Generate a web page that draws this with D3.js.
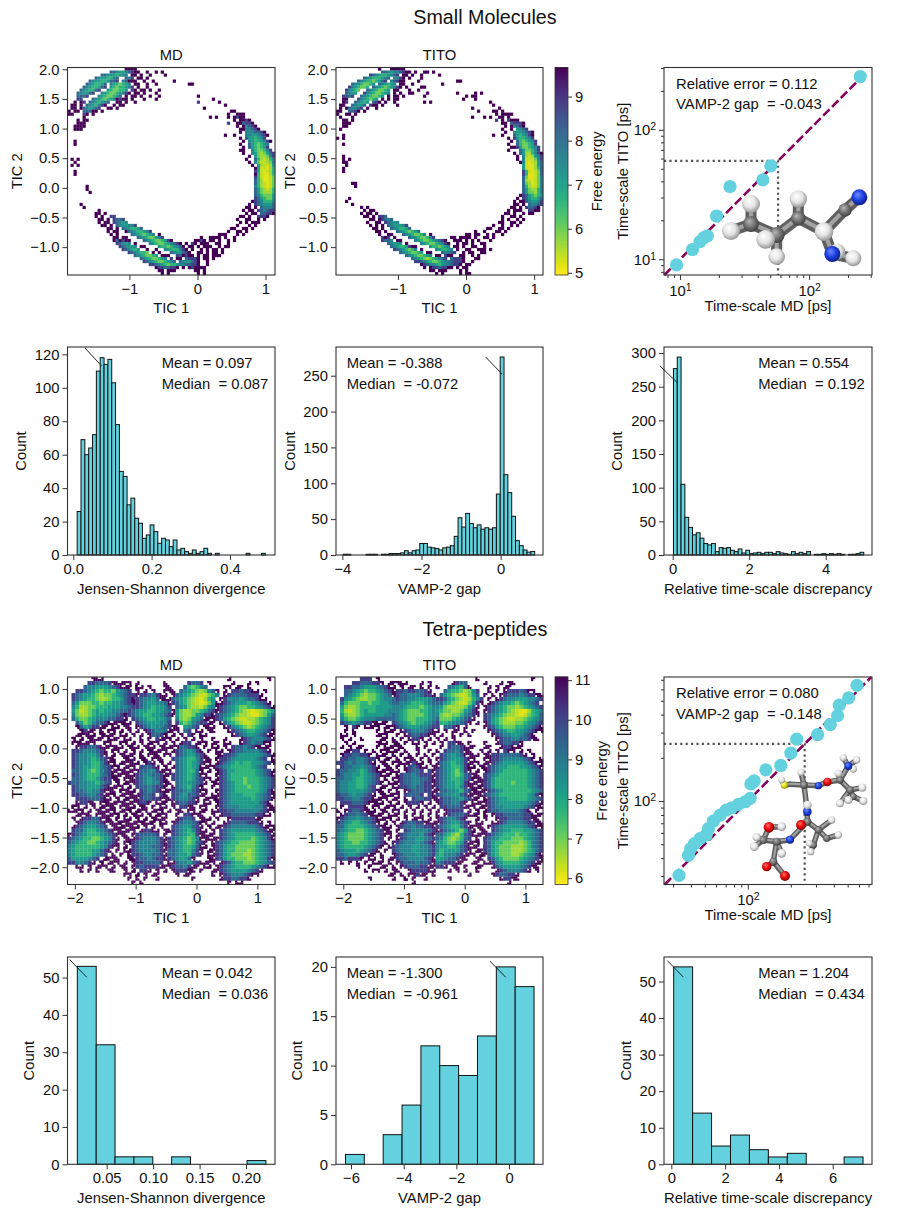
<!DOCTYPE html>
<html>
<head>
<meta charset="utf-8">
<script src="https://cdn.jsdelivr.net/npm/d3@7"></script>
<style>
  html, body { margin: 0; padding: 0; background: #fff; }
  svg text { font-family: "Liberation Sans", Arial, sans-serif; white-space: pre; fill: #111; }
</style>
</head>
<body>
<svg id="chart" width="897" height="1218"></svg>
<script>
// free energy histograms, one text row per TIC 2 bin. "col:levels", level 0 = lowest energy, 9 = highest, . = empty bin
var ringMdRows = ["19:9999","14:7765567899 26:9 29:9 31:9","11:776554566 21:99 24:9 27:9 32:9","9:76554467 19:768 23:99 26:9","7:7655445778 18:67999 25:9 28:9 35:9","6:7654457 14:6543456 22:99 26:9 29:9 40:99","5:76544578 14:54344568 23:9 26:9","4:7654478 13:5433445 21:89 24:99 27:9 30:9","3:765578 11:6543345689 22:99 25:9 29:9","3:7778 10:65433457 19:9.99 24:9 27:9 30:9 43:9","3:88 8:76543456 16:9899 21:9 25:9 29:9 48:9","2:9.98 7:7654567 16:99 19:9 22:9 43:8 50:9","1:99.9 6:7654689 15:9.9 18:9 52:9","1:99.9 5:765578 13:99 16:9 45:9","0:9.99 5:77799 11:9 54:99","0:99 5:89 8:9 53:9 56:999","5:9 47:9 49:9 53:9 55:9899","3:9 5:99 55:9 57:9989","3:999 53:8 56:99 58:7889","2:99 4:99 56:9.9 59:6789","2:999 57:99 59:66789","57:9 59:6667789","52:9 55:9 59:66556789","57:9 59:7554568","2:9 58:9 60:65445689","2:9 57:9 60:7543456","58:9 60:7543458","57:99 61:6433468","58:9 61:65323578","60:9 62:5322368","1:9 3:9 59:9 62:74212468","2:9 60:9 62:63112368","1:9 3:9 61:9 63:5211258","62:9 63:5110247","2:9 62:8 63:5101247","2:9 62:9 63:4100247","62:84100137","62:74200136","62:74210137","6:9 62:642101378","6:9 62:75321247","7:9 62:753222468","62:7643335689","62:87543356","61:9 62:87644468","4:9 60:9 62:876555789","5:9 59:99 62:9 64:76667","10:9 58:9 60:99 63:8767889","9:99 12:9 59:9.9 62:9 64:77889","9:9 11:9 14:88 57:99 60:9 63:8889","10:99 13:9 15:8778 56:9 59:99 63:9 65:9","10:9 12:99 15:87656 57:9 59:9.9 62:99","11:99 14:9 16:7655668 56:9 60:9 62:9","13:99 16:9 18:7654457 54:99 58:99 61:9","13:9 15:99 19:976544568 53:9 56:99 59:9","14:9 16:9 21:76543456 30:9 50:99 52:9 56:9 58:9","15:99 18:99 23:765433568 44:9 47:9999 52:9 55:9","15:9798 19:99 25:7654334589 42:9989.99 50:9 53:9 55:9","16:87656 22:9 27:65433456789 39:9 41:8 42:9.99 46:9 49:99 53:9","17:876556 24:99 30:544345679 40:99 43:9.9 46:99 50:9.99","18:876545 26:9 29:9 32:65444689 41:9 44:9 46:9 48:99 51:9","20:8765443 28:9 30:9 34:7655789 43:99 46:9 48:99 51:9","22:76543345 31:99 33:9 36:879899 43:9.9 46:9.99 50:9","24:765433456 34:8 36:99 39:78889 45:99 48:9","25:87654334567 37:7655789 46:9","27:88765434456677889 46:9","29:98877889.9 40:9899 44:99","30:99.99 35:9 42:99.9","31:9 33:9 43:9.9"];

var ringTitoRows = ["14:9 18:9999 22:9","15:7765667899 26:9 29:99 32:9","11:8765445678 22:99 25:9 28:9 34:9","9:765444567 19:6689 24:9 28:9","7:7654434578 18:67899 27:9 40:99","5:76543345 14:765456 21:99 25:9 35:9","4:8654334 12:7654345689 23:9 28:99","3:86543 10:76543345 19:99 24:9 27:9","3:7655 9:865433456 19:9.9 24:99 30:9 40:9 46:9.9","2:8778 8:76543345 17:9.99 22:9 29:9 43:9.99","2:99 7:8654345 15:9.9.9 20:9 42:9 46:9","2:98 6:76545 12:789 16:9 19:9 29:9 31:9 51:9","1:99 5:76557 11:899 15:9 20:9 52:9","1:9.9 4:76678 10:9 13:9 45:9 54:9","0:99 4:7789 9:9 47:9 52:99 55:9","0:9 3:99 6:9 53:9 55:9999","1:9 5:9 45:9 49:9 51:9 54:99 57:9","2:99 5:9 53:8 55:9 57:8999","2:999 55:99 58:78889","2:99 56:9 58:9 59:6789","1:9 55:9 58:9 60:5678","56:9 59:6556789","2:9 52:9 55:9 59:7545689","0:9 2:9 57:9 59:8544568","58:9 60:7434568","2:9 57:9 60:7433458","58:99 60:85334568","57:9 61:7533468","59:9 61:75224689","2:9 60:9 62:6212568","2:9 4:9 60:9 62:6111368","2:99 61:9 62:6101257","3:9 62:5100257","2:9 62:5100247","2:9 62:8 63:410137","62:8 63:4001379","62:7 63:3001368","62:72101368","5:99 62:73201368","6:9 62:74211368","62:75322468","62:75332468","61:9 62:875434578","4:9 60:9 62:87544578","3:9 59:9 61:99 63:765568","5:9 59:99 62:9 64:76678","8:9 10:9 58:99 61:9 63:87789","9:9 11:99 57:9.9 60:99 64:8899","8:9 10:99 13:9 56:99 59:9 62:9 64:99","9:99 12:9 14:887 55:9 58:99 61:9","11:99 14:9 15:8767 55:9 57:9 60:9.9","10:9 13:99 16:87656 54:99 58:99 61:9","11:9.9 15:9 17:7655568 52:9 55:9 58:9 60:9","12:99 15:9 18:7654457 50:99 54:99 57:9","13:99 16:9 20:76543457 46:9 49:9 53:99 56:9","14:9 17:99 22:76543346 31:9 43:99 46:99 50:9 52:9 55:9","15:898 19:9 24:765433468 38:99 41:9999 46:9 49:99 52:9","15:8776 20:99 26:65433456789 39:999 43:9.9 47:9 51:9","17:76556 23:9 28:6543345689 40:9 42:99 45:9 48:99","18:7654458 25:99 31:5443456 39:99 42:9 45:99 49:9","19:87654346 28:9 33:654456 40:9 43:99 47:999 51:9","21:76543345 30:99 35:76678 42:9.9 45:9 48:99","23:765433456 33:99 36:899 41:99 45:9 47:9","25:765432345678 38:78889 46:99","26:88765433456678889 45:9","28:98766545667889 43:99","29:9 31:98878899 40:9.99","31:99.9 35:99 41:9 43:9","33:9 35:9 41:9 43:99"];

var tetraMdRows = [
"......999...............................9.........9.............",
".....887778999...9......9.....8778.9.....9...9.9.....",
"....7665556789.9.99.9...9....743467....99.99.9......",
"..88765434435678.9.9.9..9...7654323"+"67..9.8878899.9...",
".876554323345678.9887689...76543211"+"346.9877778889....",
".876544322344578987665799.76543210245.986665677899..",
".753334434455678987655667.87543210135.9876555456789.",
".642233444555667887654556"+"8.7653221356987654334456789",
".531234545566778765544556"+"7.5322334578987654321012345",
".632234555667898765445567"+"8.5322356889876543221002357",
".7433456667788 9.876544556".replace(" ","")+"7.632356799.875432112234568",
"..753467789.999..87655566"+"8.84346788.9.97543211234568",
"..97568899.99..9.98765667"+"899.5678.9.9..9865432345678",
"...98.9.9.99.9.9.9.987667"+"9.9.78.9...9...987654456789",
"...99.9.9..9..9.9.9.97789"+".9.9.89.9.......98765567899",
".9.9.9.99.9.9..9..9.9.899"+"9.9.9.9.......9...987666789.",
".99.9.9..9...99.9.9.9.9.9"+".9.988.9.9....99..9876779..",
"..98877899.9.9.9.9..99.9."+"9.977889....9.9.87767899.9",
".887666789.9..9.9.9.9.99."+".98765689....9.98776666789.",
".876655689.9.9..9.9.9.9.9"+"9.8765578....98876555556789",
".876654578.9..9.9.99.9.9."+".87654468.9.9887655555678.9",
".87665446899.9.9.9.989.9."+"9.76545689..987654544556789",
".876554467899.9.9.87789.9"+".97654569.998765444445678.",
".776543467899..9.9776689."+"9.7654479.9.987554444456789",
".87654446789.99.987667789"+".87654579...987544444456789",
".776544578899..9.87656789"+".87654578.9.987544434445678",
"87766554678.9.9.987656689"+"9.7655678..9.87654434445678",
".876655578.9...9.87767889"+".97654689....87654443445678",
".877656689.9.99.9.8767899"+".877657899..987654444445689",
".887766789.9...9.98778.89"+".8765778....987655544456789",
"..888777899.9.9.9.877889."+"98766789..9.987655555456789",
"..98899..99.9..9.9889.9.9"+".9877889....98765555555789.",
".9..9.9.99.9..9.9.99.9.9."+".9.8899.9....87666555566899",
".9.9.9...9.9.9.9.9.9.9.9."+"9.99.99..9...88776666667899",
"....99.9.9..9.9.9.9.9.9.9"+"..9.8899.....9887777778899",
"...988779.9.9..9.9.9.9.9."+"..98778.9.9....988888899...",
"..98766789.9.99.9.99.9.9."+".987667899....9877778889.9.",
".987655678.9.9.9.9.9.9.9."+".8765578..9..98766666678999",
".877544567899.9.9.98899.9"+"98765468.....87655555567899",
"9876544456789...9877778.9"+".87654489.9..87654444456789",
"8765443345689..9987666789"+"876543469..9987654444345689",
"7654433456789..9876666789"+"8765434789..876544333345678",
"6544444456899.9.876667789"+"8765445799..875443333345678",
"65444455789.9..9876666789"+"776544689.9.875443332345678",
"6544445678.9...9887667789"+"776554789..9875433322345678",
"75555678.9.9...9987767889"+"8765579...9.875443332345689",
"8866789.9.......98877778.9"+"97665789.9..987544333456789",
"..99.9.9........987888899"+"98776899..9.987654444567899",
"...9.9..........9.889.9.9"+".988899.....987655556789..",
".................9.9.99.."+"..9.9........9876667899...",
".................9.9..9.."+".............98877889....",
"..................9......"+"...............9.99......"];

var tetraTitoRows = [
"......888.9........................9.............9....",
"....88777889.9.9.9...9.9.....9877....9...9.99......",
"..8877655567899.9.99.9.9....765479....9.9.99......",
"..7765434456789887887789...7544323"+"68..9.9.98887899..",
"..76543233456798776667889.75432113"+"57.9.9.98777678899",
".865432233456678776655567887 5432124".replace(" ","")+"68.9.987665556678.",
".743334434455677665444567"+"775432113589.9876554345678.",
".532234444555566654443456"+"65322223579.987654332345678",
".421234544555666543334456"+"54332235689.987654321002456",
".532234555556676543333456"+"63223346789.876543221013457",
".643345666777776543344456"+"7333456789..875432112234567",
".876567889.9..87654344567"+"844566789.9.975432223345678",
"..9.89.99.9.9.98765556678"+"8.7789.9....987543334456789",
"..9.9.......9.9.987666789"+"9.9.99.9.9...98765445567899",
".99.9.......9..9.98778899"+".9..9.9.9.....98766556789..",
".9.9..9....9..9.9.9889.9."+"9.9.9..........98776677899.",
"..9.9.......9..9.9.99.9.9"+".9.8899........9877889....",
".9.9.99...9.999.9...9.9.."+".9.87789........988999....",
"..9988.9.9.9...9.9..9..9."+"9.877689.....9.9.899.9.9.",
".98877889.9.9.9.9.9.9.9.9"+".87656799....9887777789.9.",
".8877667889.9..9.9.9.9.9."+"987655689....988766666789.9",
"8876766789.99.9.9.9899.9."+"976545689.9..98765555567899",
".8776656789.9..9.987899.9"+"9765445899.9987655444556789",
"877665457899...9.98778.89"+"876543589.9.987654444445678",
"8766554567899..9877678889"+"8765434789..876544444445678",
"77665445678.9..9877667789"+"8765445789.9875444444445678",
"766554456789.99.877667889"+"876554589.9.875444434445678",
"7665544578.9...9887677889"+"876554689..9875444444445678",
"76655556789....9.987778899"+"7766547899..876544444445679",
"8776566789.9...9.87778.89"+"876655789.9.876544444445689",
"8877667889.9...9.9.8778899"+"8776657899.9876554444456789",
".888777899.9...9.98889.9."+"98776689..9.987655555556789",
".9.88889.9...99.9.9.9.9.9"+".8877789...9987665555567899",
"9.98778999.....9.9.9.9.9."+"9.98888.9.9.987766666789.9",
".9877678999....9.9.9.9.9.9"+".9877789.9.9.9887777788999",
"987665677899.9.9.9.999.9."+"98766789..9....98877778899.",
"87654456789.9.9.987788999"+"987655789.....9987666678899",
"7754444567899..9877677889"+"876544689.9..98765555567899",
"76544334567899.9.876666789"+"876543589..9.87655444556789",
"65433334567899.9876665789"+"7754324789..987654443445678",
"654333345678.9.9876655678"+"764323478...876544433345678",
"6544334456789.98766656789"+"654334589.9.875443333234678",
"654444456789.987666556678"+"6554457899..875433322234678",
"76555456789.9.87666556678"+"645555789.9.875433322234578",
"7765567899.9..98766656678"+"546667899..9975433322345689",
"8878889.99.....8776666789"+"55677899..9..87543333456789",
".9.9.9.9.9.....9877767789"+"6788899..9...98654444567899",
".....9..9.......987778899"+"889.99.9..9...976555567899.",
".......9..........9888899."+"..9.9.9.......987666789.9.",
"..................99899.9"+"..............9877889....",
"........9........9.9..9.."+"...9............98899.....",
"...................9....."+"..................9......."];

// sparse bins between the basins, same grid, drawn under the rows above
var tetraMdFill = ["","14:99","14:99 17:9 25:9 34:9","14:88 25:99 35:9 37:9","13:8888 24:9.9 36:99","14:888 24:99 36:9","14:888 25:9 36:99","14:88 25:9 36:9","24:9 26:9 36:99","14:8 25:99 36:9","13:99 25:9 35:99","10:99.9 14:99 25:9 35:9","2:99 9:9.99 14:9 24:9 34:99","3:999 8:9.99 13:9 23:9 25:99 33:9 35:9","2:99.99 8:999 13:99 24:9 26:9 33:99","1:9.9.99 10:99 14:9 24:99 33:9 36:9 46:9","2:99.9 9:99 13:99.9 20:99 33:99 36:99 49:99","10:9.9 15:99 19:9 24:9.9 34:9 36:99 49:99","11:99 16:9 20:99 24:9 35:9 37:99","11:9 14:99 18:9 21:99 34:9 37:9 51:9","10:99 14:99 18:99 22:9 34:99 37:99","11:9 13:99 16:99 19:99 23:9 35:9 38:9","9:99 12:9 15:9 18:9 24:9 34:9 37:9","10:9 13:99 16:9 24:9 33:9 35:9 37:99","9:9 11:99 15:9 24:99 34:9 37:9","11:99 14:9 16:9 24:9 33:99 37:9","10:9 12:9 14:99 24:9 34:9 36:99","9:99 12:99 15:9 24:9 33:9 36:9","10:9 13:9 15:99 24:99 34:9 37:9","10:99 13:99 16:9 18:9 24:9 33:99 36:9","9:9 12:9 14:99 17:9 24:9 34:9 36:99","8:99 11:9 13:99 16:9 18:99 23:99 34:99 37:9","1:99 8:9.99 13:9 15:99 18:9 24:9 34:9 37:9","0:9 2:99 7:99 10:99 14:99 17:99 22:99 33:99 36:99","2:99 8:9.9 11:99 14:9 16:99 20:9 22:99 33:9 36:9","1:9 9:99 12:9 14:99 17:9 19:9 21:99 24:9 34:99 37:9","10:9 12:99 15:9.9 18:9 20:99 23:99 33:9 36:9","12:99 14:9 16:99 33:9 35:9 37:9","13:9 15:9 25:9 33:99 36:9","13:99 34:9 36:9","14:9 34:99","14:99 33:9 36:9","14:9 34:9 36:9","14:99 35:99","13:9 15:9 35:9","9:99 12:9 15:99 35:99 52:9","8:9.9 11:99 14:9 34:9 36:9","8:99 11:9 13:99 34:99","7:9 10:99 14:9.9 30:9 33:9 36:9","14:99 17:9 30:9 36:9","15:9 31:9","16:9"];
var tetraTitoFill = ["","14:9 16:9","13:99 16:9 25:9","","","","","","","","","10:9 12:9","9:9 12:99","10:9 13:9","10:99","11:99","10:99 14:99 33:9 37:9","12:9 15:99 33:99 37:99","12:99 14:9 33:9 36:9","11:9 14:9 16:9 34:99 37:9","12:99 15:9 18:9 34:9 37:9","11:9 14:99 17:9 21:9 34:9 37:9","13:9 15:9 18:9 20:9 33:99 36:9","12:99 14:9 35:9 37:9","13:9 15:9 35:9 37:99","12:9 14:9 34:99 37:9","14:99 34:9 36:9","11:99 14:9 34:99 36:9","11:9 13:9 34:9 36:99","11:99 13:99 34:9 36:9","10:9 12:9 14:9 35:9 37:9","10:99 13:9 15:9 34:9 36:9","9:99 12:9 14:9 33:99 36:9","9:9 11:99 14:9 35:9 37:9","11:9 13:99 34:99 37:9","12:99 35:9 37:9","12:9 35:99","13:9 34:9 36:9","34:9 36:9","35:99","35:9 37:9","34:99","35:9 37:9","35:99","34:9 36:9","11:9 13:99 36:9","10:99 13:9 35:9 37:9","8:9 11:99 14:9 35:99","9:99 12:9.9 15:9 35:9","13:99 16:9 33:9","14:9 17:9","" ];

// where each level sits along the energy range, 0 = bottom of colorbar
var levelShare = [0.05, 0.09, 0.15, 0.23, 0.35, 0.45, 0.55, 0.67, 0.81, 1];

// histogram counts, bin edges
var jsdSmallCounts = [26,69,60,64,72,110,118,114,117,103,78,50,47,30,34,22,19,10,12,18,14,7,10,9,5,9,3,4,2,1,3,1,2,4,1,0,1,0,0,0,0,0,0,0,1,0,0,0,1];
var vampSmallCounts = [1,1,0,0,0,0,1,1,1,0,1,1,2,2,2,3,6,3,6,7,16,16,11,10,9,7,10,11,13,26,52,39,58,44,38,42,36,38,36,38,85,276,112,87,54,20,13,7,4,5];
var relSmallCounts = [277,294,105,56,41,30,33,25,17,15,17,5,11,10,11,7,5,9,3,7,2,3,4,2,4,4,2,5,3,2,1,5,2,4,2,5,0,1,1,2,1,2,1,2,1,0,1,1,2,4];
var jsdTetraCounts = [53,32,2,2,0,2,0,0,0,1];
var vampTetraCounts = [1,0,3,6,12,10,9,13,20,18];
var relTetraCounts = [54,14,5,8,4,2,3,0,0,2];

// time-scale pairs [MD, TITO] in ps
var timescalesSmall = [[249,258],[50.5,52.7],[43.8,41],[24.4,36.5],[19.2,21.6],[16.3,15.2],[15.3,14.7],[14.3,13.7],[12.5,11.9],[9.4,9.04]];
var timescalesTetra = [[33,30.3],[38.4,41.8],[39.8,46.6],[42.3,50.5],[46.3,54.7],[51,57.8],[53,64.3],[57.4,72.4],[64,79.8],[70.5,86.5],[77.3,89.8],[86,94.8],[95.8,98.9],[103.8,104.4],[105,131.6],[110.7,138],[133.7,165],[170,177],[200,216],[220,270],[307.7,290],[377.6,341],[425,394],[436.6,466],[508,524],[581,640]];

// inset ball-and-stick pictures, not chart data. coords are in a 3x crop frame
var moleculeSmall = {
  bonds: [[453,507,530,540],[530,540,595,490],[595,490,672,530],[672,530,735,465],[735,465,778,427],[672,530,697,597],[697,597,760,610],[453,447,453,507],[393,528,453,507],[595,432,595,490],[530,540,497,553],[530,540,530,605]],
  atoms: [[712,590,"H",24],[453,507,"C",24],[595,490,"C",22],[735,465,"C",20],[530,540,"C",24],[453,447,"H",27],[393,528,"H",27],[530,605,"H",25],[497,553,"H",28],[595,432,"H",26],[672,530,"H",28],[697,597,"N",24],[760,610,"H",24],[778,427,"N",24]],
  width: 11
};
var moleculeTetra = {
  bonds: [[745,303,720,345],[745,303,730,278],[745,303,770,285],[745,303,760,312],[720,345,682,351],[720,345,750,375],[720,345,715,325],[750,375,787,368],[750,375,760,395],[750,375,720,415],[760,395,790,408],[760,395,745,405],[682,351,655,362],[655,362,612,360],[612,360,603,322],[612,360,570,358],[570,358,553,360],[553,360,545,345],[612,360,622,440],[622,440,622,420],[622,440,622,470],[622,470,603,480],[622,470,655,495],[655,495,695,465],[655,495,680,520],[680,520,715,510],[655,495,640,540],[640,540,628,535],[640,540,632,560],[622,470,570,524],[570,524,530,530],[530,530,490,525],[490,525,470,517],[490,525,463,545],[490,525,507,487],[507,487,545,485],[530,530,545,565],[530,530,520,590],[520,590,500,605],[520,590,555,633]],
  atoms: [[720,345,"C",11],[750,375,"C",11],[760,395,"C",10],[730,278,"H",11],[770,285,"H",11],[760,312,"H",11],[715,325,"H",11],[745,303,"N",12],[787,368,"H",12],[790,408,"H",12],[720,415,"H",12],[745,405,"H",12],[682,351,"O",13],[655,362,"N",11],[612,360,"C",12],[603,322,"H",11],[553,360,"S",11],[545,345,"H",10],[622,440,"N",13],[622,420,"H",13],[622,470,"C",12],[655,495,"C",11],[680,520,"C",11],[640,540,"C",11],[695,465,"H",11],[715,510,"H",11],[628,535,"H",10],[632,560,"H",11],[603,480,"O",15],[570,524,"N",12],[530,530,"C",12],[490,525,"C",12],[470,517,"H",12],[463,545,"H",13],[507,487,"O",16],[545,485,"H",13],[545,565,"H",13],[520,590,"C",12],[500,605,"O",14],[555,633,"O",15]],
  width: 5.5
};

var accent = "#63d2de";
var lineColor = "#85005c";
var spine = "#333";
var fontSize = 14.8;

var svg = d3.select("#chart");

// frame columns and rows of the 4x3 figure
var cols = [[67.5,275],[336,543],[664,872]];
var rows = [[67.5,275],[347,555],[677,884.5],[957,1164.3]];

var defs = svg.append("defs");
var atomColors = {
  H: ["#ffffff","#e4e4e4","#8f8f8f"],
  C: ["#b5b5b5","#737373","#3c3c3c"],
  N: ["#6f8cff","#1d3fe0","#0c1c80"],
  O: ["#ff7070","#ea0808","#7a0000"],
  S: ["#ffff98","#e6e020","#8a8200"]
};
Object.keys(atomColors).forEach(function(k) {
  var g = defs.append("radialGradient").attr("id", "atom" + k).attr("cx", "45%").attr("cy", "42%").attr("r", "60%").attr("fx", "38%").attr("fy", "32%");
  g.append("stop").attr("offset", "0%").attr("stop-color", atomColors[k][0]);
  g.append("stop").attr("offset", "55%").attr("stop-color", atomColors[k][1]);
  g.append("stop").attr("offset", "100%").attr("stop-color", atomColors[k][2]);
});

function text(str, x, y, opts) {
  opts = opts || {};
  var t = svg.append("text").attr("x", x).attr("y", y).attr("font-size", opts.size || fontSize)
    .attr("text-anchor", opts.anchor || "middle").text(str);
  if (opts.rotate) t.attr("transform", "rotate(-90," + x + "," + y + ")");
  return t;
}

function styleAxis(g) {
  g.selectAll(".domain").remove();
  g.selectAll(".tick line").attr("stroke", spine).attr("stroke-width", 1);
  g.selectAll("text").attr("font-size", fontSize).attr("font-family", "Liberation Sans").style("fill", "#111");
}

function drawAxes(c, r, x, y, xTicks, yTicks, xFmt, yFmt) {
  svg.append("g").attr("transform", "translate(0," + rows[r][1] + ")")
    .call(d3.axisBottom(x).tickValues(xTicks).tickSize(5).tickPadding(3).tickFormat(xFmt)).call(styleAxis);
  svg.append("g").attr("transform", "translate(" + cols[c][0] + ",0)")
    .call(d3.axisLeft(y).tickValues(yTicks).tickSize(5).tickPadding(3).tickFormat(yFmt)).call(styleAxis);
}

function drawFrame(c, r) {
  svg.append("rect").attr("x", cols[c][0]).attr("y", rows[r][0])
    .attr("width", cols[c][1] - cols[c][0]).attr("height", rows[r][1] - rows[r][0])
    .attr("fill", "none").attr("stroke", spine).attr("stroke-width", 1.1);
}

function parseRows(list, grain) {
  var cells = [];
  list.forEach(function(row, r) {
    row.split(" ").filter(Boolean).forEach(function(tok) {
      var parts = tok.indexOf(":") >= 0 ? tok.split(":") : ["0", tok];
      Array.from(parts[1]).forEach(function(ch, i) {
        if (ch === ".") return;
        var col = +parts[0] + i, level = +ch;
        if (grain && level === 9) {
          // sparse bins were read at half this bin size
          var skip = (col * 3 + r * 5) % 4;
          [0, 1, 2, 3].forEach(function(k) {
            if (k !== skip) cells.push({col: col + (k % 2) / 2, row: r + (k >> 1) / 2, level: level, size: 0.5});
          });
        } else {
          cells.push({col: col, row: r, level: level, size: 1});
        }
      });
    });
  });
  return cells;
}

function heatmap(c, r, list, nBins, grain, xDom, yDom, eDom, xTicks, yTicks, yFmt, title, ylabelX) {
  var x = d3.scaleLinear().domain(xDom).range(cols[c]);
  var y = d3.scaleLinear().domain(yDom).range(rows[r]);
  var color = d3.scaleSequential(d3.interpolateViridis).domain([eDom[1], eDom[0]]);
  var energy = d => eDom[0] + levelShare[d.level] * (eDom[1] - eDom[0]);
  var bw = (xDom[1] - xDom[0]) / nBins;
  var bh = (yDom[1] - yDom[0]) / nBins;
  var cells = parseRows(list, grain).filter(d => d.col < nBins);
  svg.append("g").selectAll("rect").data(cells).enter().append("rect")
    .attr("x", d => x(xDom[0] + d.col * bw))
    .attr("y", d => y(yDom[0] + d.row * bh))
    .attr("width", d => (x(xDom[0] + bw) - x(xDom[0])) * d.size + 0.2)
    .attr("height", d => (y(yDom[0] + bh) - y(yDom[0])) * d.size + 0.2)
    .attr("fill", d => color(energy(d)));
  drawAxes(c, r, x, y, xTicks, yTicks, d3.format("d"), yFmt);
  drawFrame(c, r);
  var cx = (cols[c][0] + cols[c][1]) / 2;
  text(title, cx, rows[r][0] - 7.5);
  text("TIC 1", cx, rows[r][1] + 38);
  text("TIC 2", ylabelX, (rows[r][0] + rows[r][1]) / 2, {rotate: true});
}

function colorbar(r, eDom, ticks, labelX) {
  var x0 = 555, x1 = 568;
  var y = d3.scaleLinear().domain([eDom[0], eDom[1]]).range([rows[r][1], rows[r][0]]);
  var color = d3.scaleSequential(d3.interpolateViridis).domain([eDom[1], eDom[0]]);
  var steps = d3.range(eDom[0], eDom[1], (eDom[1] - eDom[0]) / 207);
  svg.append("g").selectAll("rect").data(steps).enter().append("rect")
    .attr("x", x0).attr("width", x1 - x0)
    .attr("y", d => y(d) - 1.5).attr("height", 1.6)
    .attr("fill", d => color(d));
  svg.append("g").attr("transform", "translate(" + x1 + ",0)")
    .call(d3.axisRight(y).tickValues(ticks).tickSize(4).tickPadding(3).tickFormat(d3.format("d"))).call(styleAxis);
  svg.append("rect").attr("x", x0).attr("y", rows[r][0]).attr("width", x1 - x0).attr("height", rows[r][1] - rows[r][0])
    .attr("fill", "none").attr("stroke", spine).attr("stroke-width", 0.8);
  text("Free energy", labelX, (rows[r][0] + rows[r][1]) / 2, {rotate: true});
}

function histogram(c, r, counts, start, width, xDom, yMax, xTicks, yTicks, xFmt, xlabel, ylabelX, note, stats) {
  var x = d3.scaleLinear().domain(xDom).range(cols[c]);
  var y = d3.scaleLinear().domain([0, yMax]).range([rows[r][1], rows[r][0]]);
  var bars = counts.map(function(v, i) { return {v: v, i: i}; }).filter(d => d.v > 0);
  svg.append("g").selectAll("rect").data(bars).enter().append("rect")
    .attr("x", d => x(start + d.i * width))
    .attr("y", d => y(d.v))
    .attr("width", x(start + width) - x(start))
    .attr("height", d => y(0) - y(d.v))
    .attr("fill", accent).attr("stroke", "#111").attr("stroke-width", 1);
  drawAxes(c, r, x, y, xTicks, yTicks, xFmt, d3.format("d"));
  drawFrame(c, r);
  var cx = (cols[c][0] + cols[c][1]) / 2;
  text(xlabel, cx, rows[r][1] + 38.5);
  text("Count", ylabelX, (rows[r][0] + rows[r][1]) / 2, {rotate: true});
  svg.append("line").attr("x1", x(note[0])).attr("y1", y(note[1])).attr("x2", x(note[2])).attr("y2", y(note[3]))
    .attr("stroke", "#111").attr("stroke-width", 0.9);
  var tx = cols[c][0] + (c === 1 ? 10.7 : 94.2);
  text(stats[0], tx, rows[r][0] + 21.2, {anchor: "start"});
  text(stats[1], tx, rows[r][0] + 41.7, {anchor: "start"});
}

function scatter(r, pairs, xDom, yDom, xMajor, xMinor, yMajor, yMinor, guide, stats, molecule, cropY) {
  var c = 2;
  var x = d3.scaleLog().domain(xDom).range(cols[c]);
  var y = d3.scaleLog().domain(yDom).range([rows[r][1], rows[r][0]]);
  var diagMin = Math.max(xDom[0], yDom[0]), diagMax = Math.min(xDom[1], yDom[1]);
  var dashEnd = r === 0 ? d3.max(pairs, d => d[0]) : diagMax;
  svg.append("line").attr("x1", x(diagMin)).attr("y1", y(diagMin)).attr("x2", x(dashEnd)).attr("y2", y(dashEnd))
    .attr("stroke", lineColor).attr("stroke-width", 2.6).attr("stroke-dasharray", "9,3.5");
  svg.append("path").attr("d", d3.line()([[x(xDom[0]), y(guide)], [x(guide), y(guide)], [x(guide), y(yDom[0])]]))
    .attr("fill", "none").attr("stroke", "#555").attr("stroke-width", 2.2).attr("stroke-dasharray", "2.2,3.2");
  svg.append("g").selectAll("circle").data(pairs).enter().append("circle")
    .attr("cx", d => x(d[0])).attr("cy", d => y(d[1])).attr("r", 6.6).attr("fill", accent);

  // inset molecule
  var mx = d3.scaleLinear().domain([0, 870]).range([600, 890]);
  var my = d3.scaleLinear().domain([0, 810]).range([cropY, cropY + 270]);
  var mol = svg.append("g");
  mol.selectAll("line.b").data(molecule.bonds).enter().append("line").attr("class", "b")
    .attr("x1", d => mx(d[0])).attr("y1", d => my(d[1])).attr("x2", d => mx(d[2])).attr("y2", d => my(d[3]))
    .attr("stroke", "#5e5e5e").attr("stroke-width", molecule.width).attr("stroke-linecap", "round");
  mol.selectAll("line.s").data(molecule.bonds).enter().append("line").attr("class", "s")
    .attr("x1", d => mx(d[0])).attr("y1", d => my(d[1]) - 0.6).attr("x2", d => mx(d[2])).attr("y2", d => my(d[3]) - 0.6)
    .attr("stroke", "#a2a2a2").attr("stroke-width", molecule.width / 2.6);
  mol.selectAll("circle").data(molecule.atoms).enter().append("circle")
    .attr("cx", d => mx(d[0])).attr("cy", d => my(d[1])).attr("r", d => d[3] / 3)
    .attr("fill", d => "url(#atom" + d[2] + ")");

  var sup = function(sel) {
    sel.selectAll("text").each(function(d) {
      var t = d3.select(this).text("10");
      t.append("tspan").attr("dy", -5).attr("font-size", 10.5).text(Math.round(Math.log10(d)));
    });
  };
  svg.append("g").attr("transform", "translate(0," + rows[r][1] + ")")
    .call(d3.axisBottom(x).tickValues(xMinor).tickSize(3).tickFormat("")).call(styleAxis);
  svg.append("g").attr("transform", "translate(" + cols[c][0] + ",0)")
    .call(d3.axisLeft(y).tickValues(yMinor).tickSize(3).tickFormat("")).call(styleAxis);
  svg.append("g").attr("transform", "translate(0," + rows[r][1] + ")")
    .call(d3.axisBottom(x).tickValues(xMajor).tickSize(5).tickPadding(5).tickFormat(d => d)).call(styleAxis).call(sup);
  svg.append("g").attr("transform", "translate(" + cols[c][0] + ",0)")
    .call(d3.axisLeft(y).tickValues(yMajor).tickSize(5).tickPadding(3).tickFormat(d => d)).call(styleAxis).call(sup);
  drawFrame(c, r);
  text("Time-scale MD [ps]", (cols[c][0] + cols[c][1]) / 2, rows[r][1] + 35.5);
  text("Time-scale TITO [ps]", 628, (rows[r][0] + rows[r][1]) / 2, {rotate: true});
  text(stats[0], cols[c][0] + 12, rows[r][0] + 21, {anchor: "start"});
  text(stats[1], cols[c][0] + 12, rows[r][0] + 41.5, {anchor: "start"});
}

function minorTicks(decades) {
  var out = [];
  decades.forEach(function(dec) { d3.range(2, 10).forEach(function(m) { out.push(m * dec); }); });
  return out;
}

// fill goes first in the cell list so the basin rows paint on top of it
function withFill(list, fill) {
  return fill.concat(d3.range(52 - fill.length).map(() => "")).map(function(row, i) {
    return row + " " + list[i];
  });
}

// Small Molecules
text("Small Molecules", 485, 24, {size: 19.7});
var ringX = [-1.91, 1.14], ringY = [2.03, -1.47];
var ringE = [4.95, 9.66];
var ringTicksY = [-1, -0.5, 0, 0.5, 1, 1.5, 2];
heatmap(0, 0, ringMdRows, 69, false, ringX, ringY, ringE, [-1, 0, 1], ringTicksY, d3.format(".1f"), "MD", 22);
heatmap(1, 0, ringTitoRows, 69, false, [-1.91, 1.13], ringY, ringE, [-1, 0, 1], ringTicksY, d3.format(".1f"), "TITO", 295);
colorbar(0, ringE, [5, 6, 7, 8, 9], 602);
scatter(0, timescalesSmall, [7.52, 307], [7.56, 303], [10, 100], minorTicks([1, 10, 100]).filter(d => d > 7.52 && d < 307 && d !== 10 && d !== 100), [10, 100], minorTicks([1, 10, 100]).filter(d => d > 7.56 && d < 303 && d !== 10 && d !== 100), 57.5, ["Relative error = 0.112", "VAMP-2 gap  = -0.043"], moleculeSmall, 55);

var fmt1 = d3.format(".1f"), fmt2 = d3.format(".2f"), fmt0 = d3.format("d");
histogram(0, 1, jsdSmallCounts, 0.01, 0.0098, [-0.0147, 0.515], 124.4, [0, 0.2, 0.4], d3.range(0, 121, 20), fmt1, "Jensen-Shannon divergence", 26, [0.0299, 123.8, 0.0725, 113], ["Mean = 0.097", "Median  = 0.087"]);
histogram(1, 1, vampSmallCounts, -3.98, 0.0968, [-4.16, 1.07], 290, [-4, -2, 0], [0, 50, 100, 150, 200, 250], fmt0, "VAMP-2 gap", 295, [-0.379, 276, 0.04, 252], ["Mean = -0.388", "Median  = -0.072"]);
histogram(2, 1, relSmallCounts, 0.02, 0.0995, [-0.227, 5.21], 309, [0, 2, 4], [0, 50, 100, 150, 200, 250, 300], fmt0, "Relative time-scale discrepancy", 622, [-0.332, 281, 0.12, 256], ["Mean = 0.554", "Median  = 0.192"]);

// Tetra-peptides
text("Tetra-peptides", 485, 636, {size: 19.7});
var tetraX = [-2.12, 1.29], tetraY = [1.2, -2.29];
var tetraE = [5.84, 11.08];
var tetraTicksY = [-2, -1.5, -1, -0.5, 0, 0.5, 1];
heatmap(0, 2, withFill(tetraMdRows, tetraMdFill), 52, true, tetraX, tetraY, tetraE, [-2, -1, 0, 1], tetraTicksY, d3.format(".1f"), "MD", 22);
heatmap(1, 2, withFill(tetraTitoRows, tetraTitoFill), 52, true, tetraX, tetraY, tetraE, [-2, -1, 0, 1], tetraTicksY, d3.format(".1f"), "TITO", 295);
colorbar(2, tetraE, [6, 7, 8, 9, 10, 11], 607);
scatter(2, timescalesTetra, [25.9, 740], [26.2, 732], [100], minorTicks([10, 100]).filter(d => d > 25.9 && d < 740 && d !== 100), [100], minorTicks([10, 100]).filter(d => d > 26.2 && d < 732 && d !== 100), 250, ["Relative error = 0.080", "VAMP-2 gap  = -0.148"], moleculeTetra, 665);

histogram(0, 3, jsdTetraCounts, 0.0184, 0.0203, [0.0078, 0.2312], 55.5, [0.05, 0.10, 0.15, 0.20], [0, 10, 20, 30, 40, 50], fmt2, "Jensen-Shannon divergence", 34, [0.0101, 54.8, 0.0284, 50.1], ["Mean = 0.042", "Median  = 0.036"]);
histogram(1, 3, vampTetraCounts, -6.21, 0.716, [-6.57, 1.29], 21, [-6, -4, -2, 0], [0, 5, 10, 15, 20], fmt0, "VAMP-2 gap", 302, [-0.731, 20.6, -0.125, 18.95], ["Mean = -1.300", "Median  = -0.961"]);
histogram(2, 3, relTetraCounts, 0.087, 0.704, [-0.273, 7.46], 56.7, [0, 2, 4, 6], [0, 10, 20, 30, 40, 50], fmt0, "Relative time-scale discrepancy", 631, [-0.149, 55.7, 0.447, 51.2], ["Mean = 1.204", "Median  = 0.434"]);
</script>
</body>
</html>
